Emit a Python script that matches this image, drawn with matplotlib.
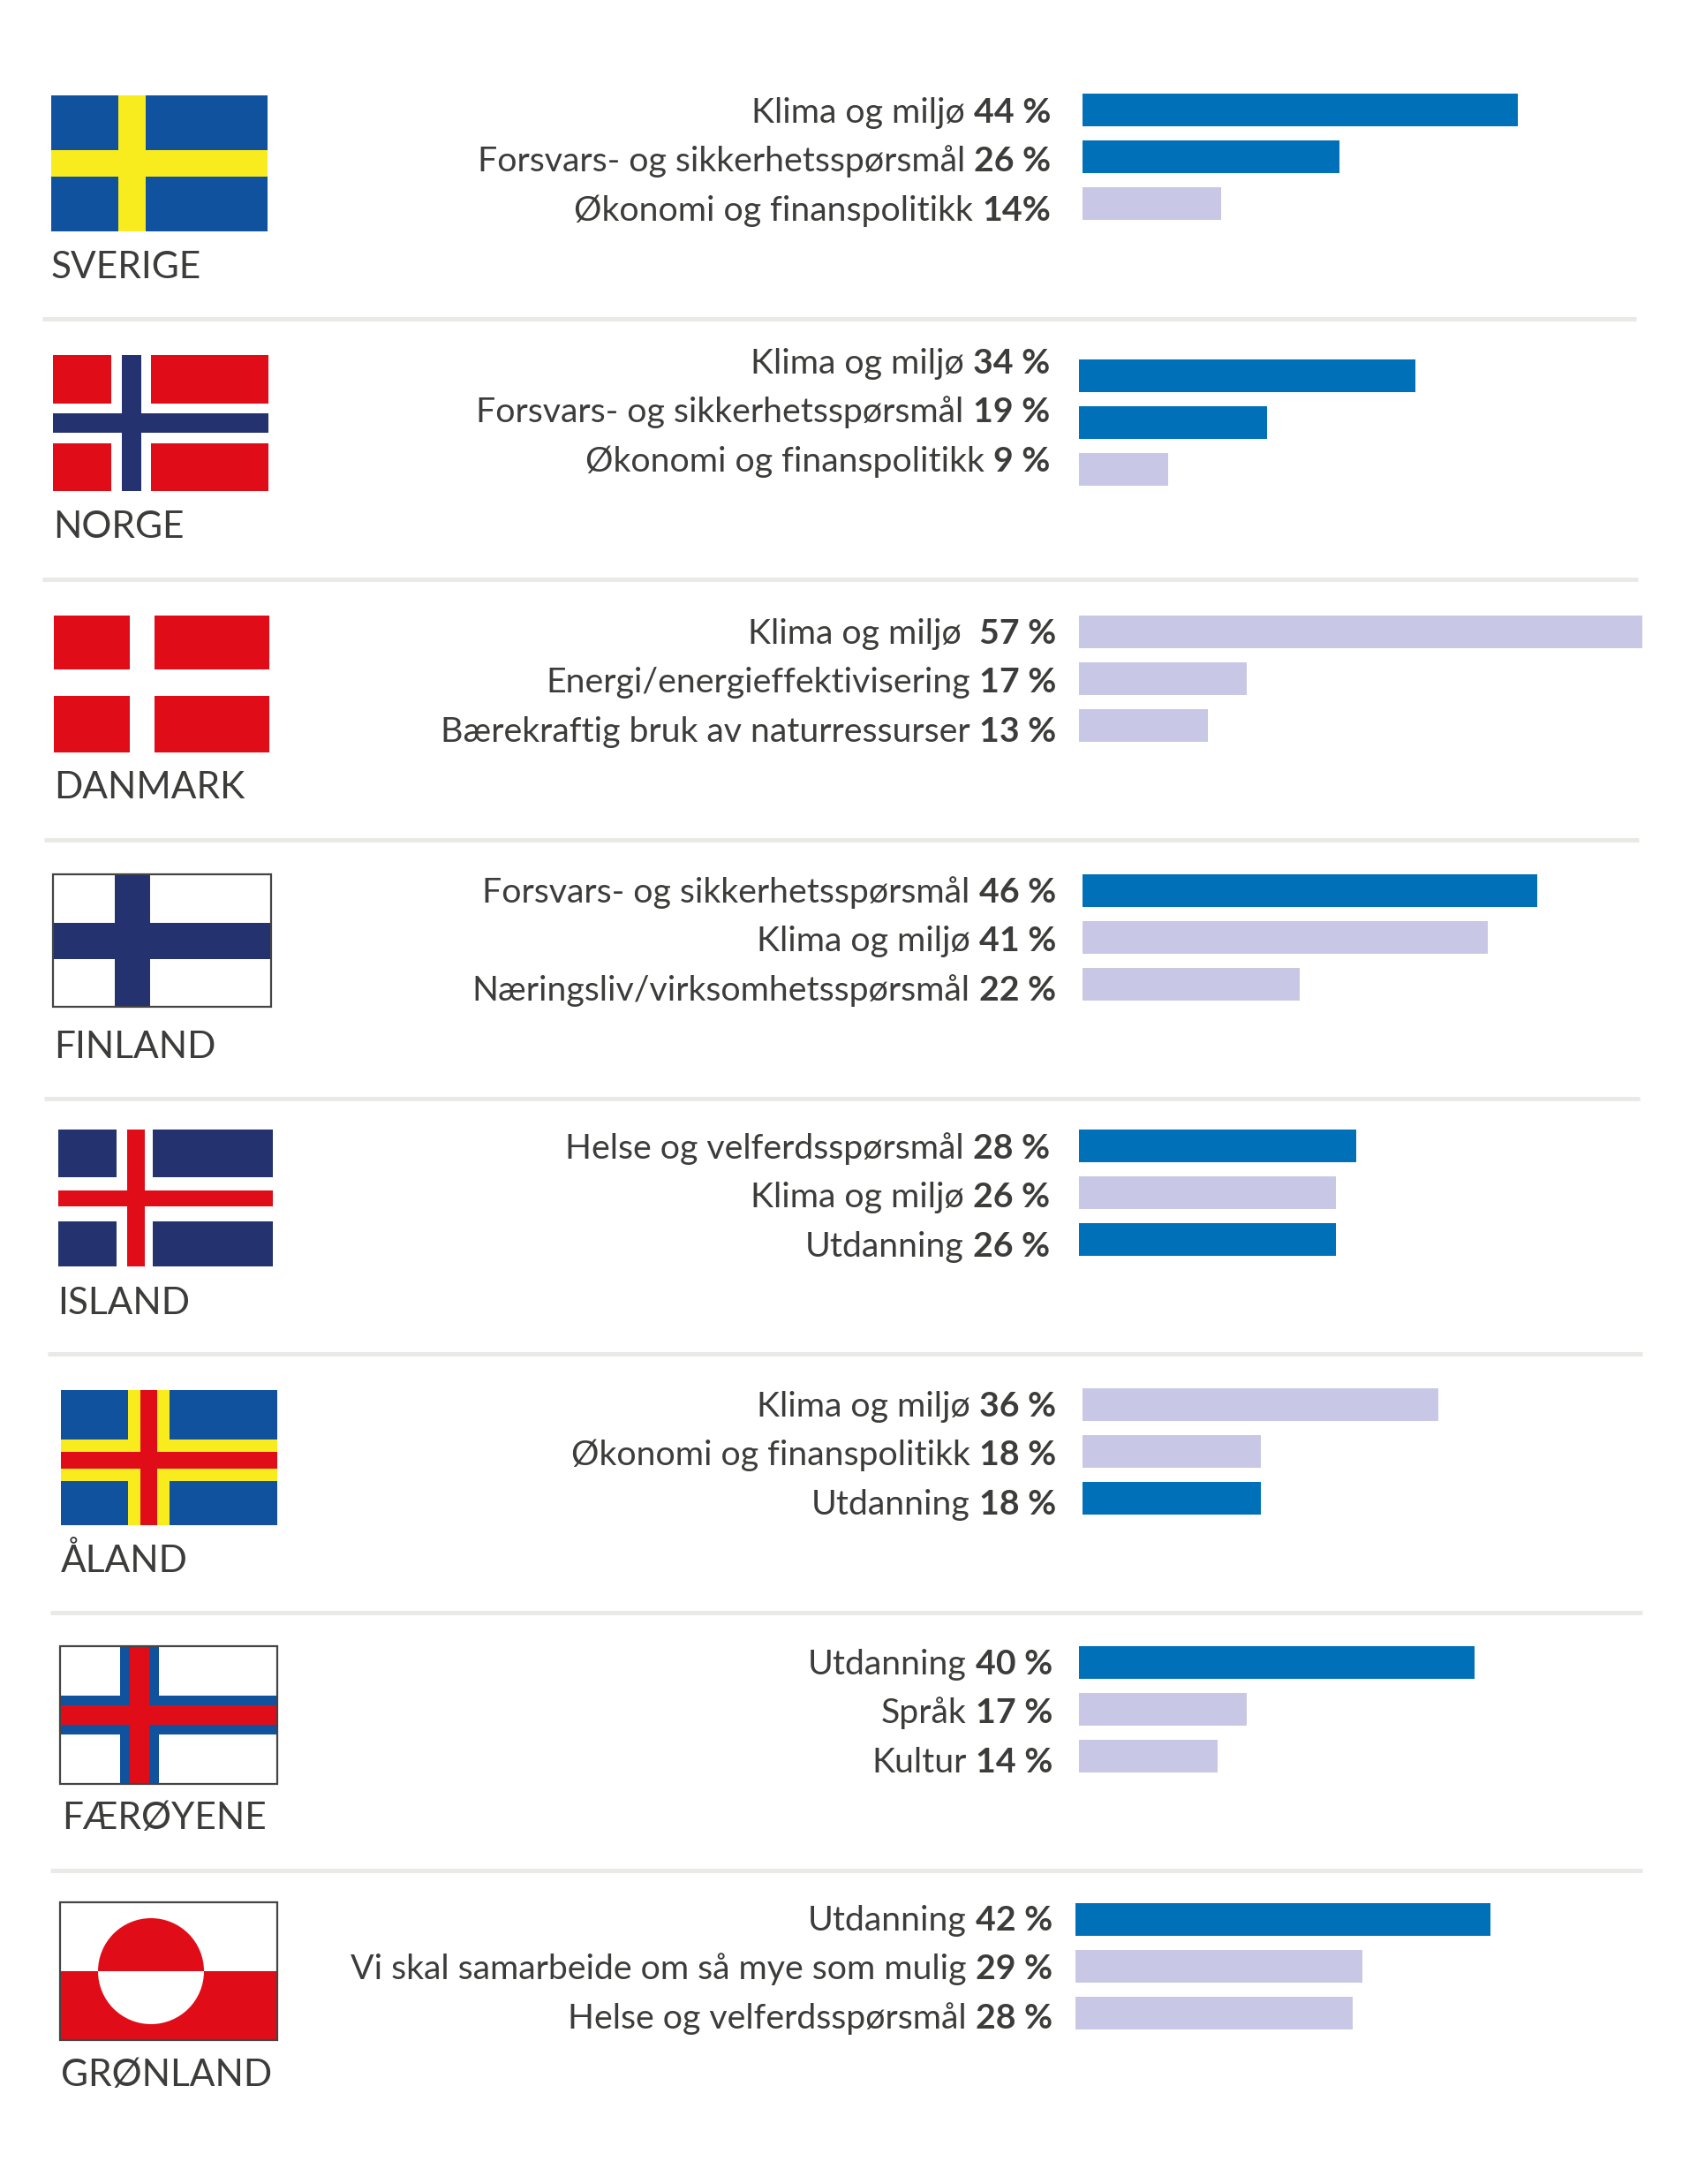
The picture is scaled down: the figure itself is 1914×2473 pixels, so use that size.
import matplotlib
matplotlib.use("Agg")
import matplotlib.pyplot as plt
from matplotlib.patches import Rectangle, Wedge

W, H = 1915, 2473
FONT = "Lato"
TEXT_SIZE = 28.3
NAME_SIZE = 30.5

BLUE = "#0070b8"
LILAC = "#c8c8e6"
TEXT = "#3c3c3b"
RULE = "#e9e9e6"
FLAG_BLUE = "#10529e"
FLAG_YELLOW = "#f9ec1e"
FLAG_RED = "#e00d19"
FLAG_NAVY = "#24336f"
WHITE = "#ffffff"

COUNTRIES = ["SVERIGE", "NORGE", "DANMARK", "FINLAND", "ISLAND", "ÅLAND", "FÆRØYENE", "GRØNLAND"]

SVERIGE_TOPICS = ["Klima og miljø", "Forsvars- og sikkerhetsspørsmål", "Økonomi og finanspolitikk"]
SVERIGE_VALUES = [44, 26, 14]
SVERIGE_DARK = [True, True, False]

NORGE_TOPICS = ["Klima og miljø", "Forsvars- og sikkerhetsspørsmål", "Økonomi og finanspolitikk"]
NORGE_VALUES = [34, 19, 9]
NORGE_DARK = [True, True, False]

DANMARK_TOPICS = ["Klima og miljø ", "Energi/energieffektivisering", "Bærekraftig bruk av naturressurser"]
DANMARK_VALUES = [57, 17, 13]
DANMARK_DARK = [False, False, False]

FINLAND_TOPICS = ["Forsvars- og sikkerhetsspørsmål", "Klima og miljø", "Næringsliv/virksomhetsspørsmål"]
FINLAND_VALUES = [46, 41, 22]
FINLAND_DARK = [True, False, False]

ISLAND_TOPICS = ["Helse og velferdsspørsmål", "Klima og miljø", "Utdanning"]
ISLAND_VALUES = [28, 26, 26]
ISLAND_DARK = [True, False, True]

ALAND_TOPICS = ["Klima og miljø", "Økonomi og finanspolitikk", "Utdanning"]
ALAND_VALUES = [36, 18, 18]
ALAND_DARK = [False, False, True]

FAROE_TOPICS = ["Utdanning", "Språk", "Kultur"]
FAROE_VALUES = [40, 17, 14]
FAROE_DARK = [True, False, False]

GRONLAND_TOPICS = ["Utdanning", "Vi skal samarbeide om så mye som mulig", "Helse og velferdsspørsmål"]
GRONLAND_VALUES = [42, 29, 28]
GRONLAND_DARK = [True, False, False]

TOPICS = [SVERIGE_TOPICS, NORGE_TOPICS, DANMARK_TOPICS, FINLAND_TOPICS,
          ISLAND_TOPICS, ALAND_TOPICS, FAROE_TOPICS, GRONLAND_TOPICS]
VALUES = [SVERIGE_VALUES, NORGE_VALUES, DANMARK_VALUES, FINLAND_VALUES,
          ISLAND_VALUES, ALAND_VALUES, FAROE_VALUES, GRONLAND_VALUES]
DARK = [SVERIGE_DARK, NORGE_DARK, DANMARK_DARK, FINLAND_DARK,
        ISLAND_DARK, ALAND_DARK, FAROE_DARK, GRONLAND_DARK]

# layout per row, in pixels from the top left corner
BAR_LEFT = [1226, 1222, 1222, 1226, 1222, 1226, 1222, 1218]
BAR_TOP = [106, 407, 697, 990, 1279, 1572, 1864, 2155]
LABEL_RIGHT = [1190, 1189, 1196, 1196, 1189, 1196, 1192, 1192]
LABEL_BASE = [139, 423, 729, 1022, 1312, 1604, 1896, 2186]
NAME_LEFT = [58, 60, 61, 61, 65, 69, 70, 69]
NAME_BASE = [315, 609, 904, 1198, 1488, 1780, 2071, 2362]
RULE_Y = [361, 656, 951, 1244, 1533, 1826, 2118]
RULE_X = [(48, 1853), (48, 1855), (50, 1856), (50, 1857), (54, 1860), (57, 1860), (57, 1860)]

PX_PER_PERCENT = 11.2
BAR_PITCH = 53
BAR_HEIGHT = 36.7
LINE_PITCH = 55.3
LABEL_GAP = 10

fig = plt.figure(figsize=(W / 100, H / 100), dpi=100, facecolor="white")
page = fig.add_axes([0, 0, 1, 1])
page.set_xlim(0, W)
page.set_ylim(H, 0)
page.axis("off")
renderer = fig.canvas.get_renderer()


def flag_base(x, y, w, h, color, border=False):
    page.add_patch(Rectangle((x, y), w, h, fc=color, ec="none", zorder=2))
    if border:
        page.add_patch(Rectangle((x, y), w, h, fc="none", ec="#444444", lw=1.6, zorder=5))


def flag_cross(x, y, w, h, color, x0, x1, y0, y1):
    # one arm down and one arm across, edges given in pixels from the flag corner
    page.add_patch(Rectangle((x + x0, y), x1 - x0, h, fc=color, ec="none", zorder=3))
    page.add_patch(Rectangle((x, y + y0), w, y1 - y0, fc=color, ec="none", zorder=3))


# Sverige
flag_base(58, 108, 245, 154, FLAG_BLUE)
flag_cross(58, 108, 245, 154, FLAG_YELLOW, 76, 107, 62, 92)
# Norge
flag_base(60, 402, 244, 154, FLAG_RED)
flag_cross(60, 402, 244, 154, WHITE, 66, 111, 55, 100)
flag_cross(60, 402, 244, 154, FLAG_NAVY, 78, 100, 66, 88)
# Danmark
flag_base(61, 697, 244, 155, FLAG_RED)
flag_cross(61, 697, 244, 155, WHITE, 86, 114, 61, 91)
# Finland
flag_base(60, 990, 247, 150, WHITE, border=True)
flag_cross(60, 990, 247, 150, FLAG_NAVY, 70, 110, 55, 96)
# Island
flag_base(66, 1279, 243, 155, FLAG_NAVY)
flag_cross(66, 1279, 243, 155, WHITE, 66, 107, 54, 104)
flag_cross(66, 1279, 243, 155, FLAG_RED, 78, 98, 69, 87)
# Åland
flag_base(69, 1574, 245, 153, FLAG_BLUE)
flag_cross(69, 1574, 245, 153, FLAG_YELLOW, 76, 123, 56, 103)
flag_cross(69, 1574, 245, 153, FLAG_RED, 90, 109, 70, 89)
# Færøyene
flag_base(68, 1864, 246, 156, WHITE, border=True)
flag_cross(68, 1864, 246, 156, FLAG_BLUE, 68, 112, 56, 100)
flag_cross(68, 1864, 246, 156, FLAG_RED, 79, 101, 67, 89)
# Grønland
flag_base(68, 2154, 246, 156, WHITE, border=True)
page.add_patch(Rectangle((68, 2232), 246, 78, fc=FLAG_RED, ec="none", zorder=2))
page.add_patch(Wedge((171, 2232), 60, 180, 360, fc=FLAG_RED, ec="none", zorder=3))
page.add_patch(Wedge((171, 2232), 60, 0, 180, fc=WHITE, ec="none", zorder=3))

for y, (x0, x1) in zip(RULE_Y, RULE_X):
    page.plot([x0, x1], [y, y], color=RULE, lw=3.6, solid_capstyle="butt", zorder=1)

for i, name in enumerate(COUNTRIES):
    page.text(NAME_LEFT[i], NAME_BASE[i], name, family=FONT, fontsize=NAME_SIZE,
              color=TEXT, va="baseline", ha="left")

    # the bars sit in their own axes, scaled in percent
    span = 60
    top = BAR_TOP[i] - (BAR_PITCH - BAR_HEIGHT) / 2
    ax = fig.add_axes([BAR_LEFT[i] / W, 1 - (top + 3 * BAR_PITCH) / H,
                       span * PX_PER_PERCENT / W, 3 * BAR_PITCH / H])
    ax.barh(range(3), VALUES[i], height=BAR_HEIGHT / BAR_PITCH,
            color=[BLUE if d else LILAC for d in DARK[i]])
    ax.set_xlim(0, span)
    ax.set_ylim(2.5, -0.5)
    ax.axis("off")

    for j, topic in enumerate(TOPICS[i]):
        y = LABEL_BASE[i] + j * LINE_PITCH
        # one value in the Swedish block is printed without the space
        value_text = "14%" if (name, j) == ("SVERIGE", 2) else f"{VALUES[i][j]} %"
        v = page.text(LABEL_RIGHT[i], y, value_text, family=FONT, fontsize=TEXT_SIZE,
                      fontweight="bold", color=TEXT, va="baseline", ha="right")
        width = v.get_window_extent(renderer).width
        page.text(LABEL_RIGHT[i] - width - LABEL_GAP, y, topic, family=FONT,
                  fontsize=TEXT_SIZE, color=TEXT, va="baseline", ha="right")

fig.savefig("out.png", dpi=100, facecolor="white")
